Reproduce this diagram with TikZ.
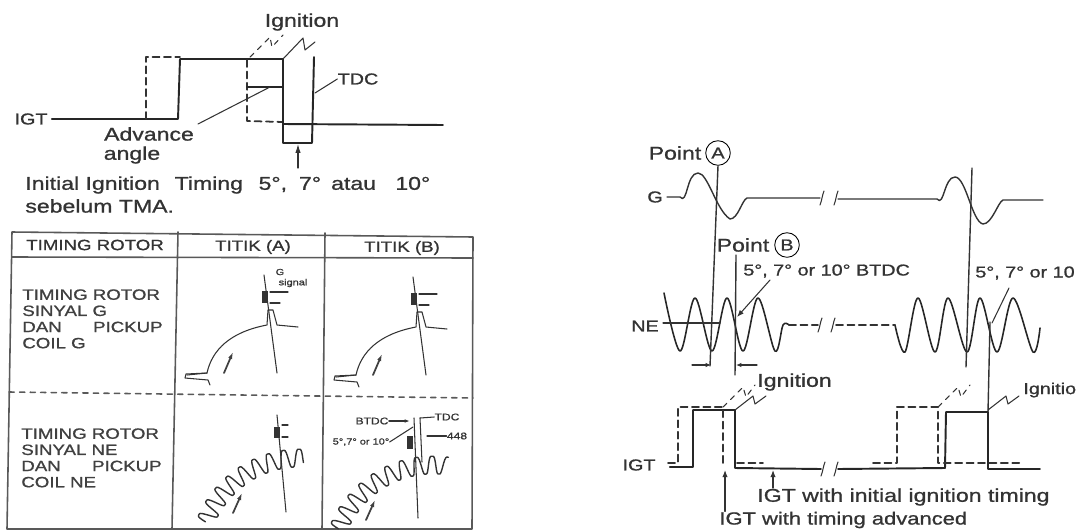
\documentclass[tikz,border=0pt]{standalone}
\usepackage{fontspec}
\setmainfont{Liberation Sans}[FakeStretch=1.25,FakeBold=1]
\usetikzlibrary{arrows.meta}

\tikzset{
  lab/.style={font=\fontsize{10.5}{12}\selectfont, text=black!80, inner sep=0pt},
  capslab/.style={font=\fontsize{9}{11}\selectfont, text=black!80, inner sep=0pt},
  smalllab/.style={font=\fontsize{5}{6}\selectfont, text=black!80, inner sep=0pt},
  tablab/.style={font=\fontsize{8.5}{9.2}\selectfont, text=black!75, inner sep=0pt, align=left, anchor=north west},
  sig/.style={line width=1.1pt, black!85},
  dsig/.style={line width=1pt, black!80, dash pattern=on 4pt off 2.5pt},
  thin line/.style={line width=0.6pt, black!80},
  tabline/.style={line width=0.9pt, black!65}
}

\begin{document}
\begin{tikzpicture}[x=0.02cm,y=-0.02cm, line cap=round, line join=round]
\clip (0,0) rectangle (1081,531);

% upper left pulse
\node[lab] (ign1) at (302,22) {Ignition};
\node[capslab] (igt1) at (31,119) {IGT};
\node[capslab] (tdc1) at (358,79) {TDC};
\node[lab] (adv) at (149,134) {Advance};
\node[lab] (ang) at (132,155) {angle};
\node[lab,anchor=west] (init) at (25,185) {Initial Ignition\hspace{0.8em}Timing\hspace{0.5em} 5°,\hspace{0.3em} 7° \hspace{0.2em}atau\hspace{0.7em} 10°};
\node[lab,anchor=west] (sebel) at (25,206) {sebelum TMA.};

\coordinate (upA) at (180,59);
\coordinate (upB) at (283,59);
\coordinate (tdcT) at (314,57);
\coordinate (tdcB) at (312,143);
\coordinate (brL) at (283,143);

\draw[sig] (igt1.east) ++(4,0) -- (178,119) -- (upA) -- (upB) -- (283,124) -- (443,125);
\draw[dsig] (146,119) -- (146,57) -- (180,57);
\draw[dsig] (247,60) -- (247,121) -- (283,122);
\draw[sig] (247,87) -- (283,87);
\draw[thin line] (198,124) -- (270,87);
\draw[sig] (tdcT) -- (tdcB) -- (brL) -- (upB);
\draw[thin line] (315,93) -- (tdc1.west);
\draw[thin line,-{Latex[length=5pt,width=3pt]}] (298,168) -- (298,144);
\draw[thin line] (upB) -- (303,38) -- (305,50) -- (315,42);
\draw[thin line,dashed] (250,57) -- (270,37) -- (272,47) -- (283,35);

% table
\draw[tabline] (12,232) -- (473,237) -- (472,529) -- (7,529) -- cycle;
\draw[tabline] (12,257) -- (473,258);
\draw[tabline] (178,232) -- (172,529);
\draw[tabline] (325,233) -- (322,529);
\draw[tabline,dashed] (9,392) -- (473,398);

\node[capslab,font=\fontsize{8.5}{10}\selectfont] (hrotor) at (95,245) {TIMING ROTOR};
\node[capslab,font=\fontsize{8.5}{10}\selectfont] (htitA) at (253,247) {TITIK (A)};
\node[capslab,font=\fontsize{8.5}{10}\selectfont] (htitB) at (402,248) {TITIK (B)};
\node[tablab] (rowG) at (22,289) {TIMING ROTOR\\SINYAL G\\DAN\hspace{2.1em}PICKUP\\COIL G};
\node[tablab] (rowNE) at (21,428) {TIMING ROTOR\\SINYAL NE\\DAN\hspace{2.1em}PICKUP\\COIL NE};

% rotor G, two cells
\foreach \dx/\dy in {0/0,149/2} {
  \begin{scope}[shift={(\dx,\dy)}]
    \draw[thin line] (187,375) -- (207,373) .. controls (212,350) and (230,332) .. (267,325)
       -- (268,310) -- (273,310) -- (277,325) -- (298,327);
    \draw[thin line] (207,373) -- (186,374) -- (185,378) -- (208,380) -- (210,385);
    \draw[thin line] (264,275) -- (277,373);
    \fill[black!80] (262,291) rectangle (268,303);
    \draw[thin line] (270,292) -- (288,292);
    \draw[thin line] (270,303) -- (280,303);
    \draw[line width=1pt,black!75,-{Latex[length=4pt,width=2.5pt]}] (224,373) -- (233,352);
  \end{scope}
}
\node[smalllab] (gG) at (280,272) {G};
\node[smalllab] (gsig) at (293,283) {signal};

% rotor NE, two cells
\foreach \dx/\dy/\lo in {0/0/70,133/7/76} {
  \begin{scope}[shift={(\dx,\dy)}]
    \draw[thin line,line width=0.8pt] plot[domain=0:\lo,samples=180,smooth]
      ({300+(102+10*(sin(44*\x)+0.12*sin(132*\x)))*cos(158-\x)},{560-(102+10*(sin(44*\x)+0.12*sin(132*\x)))*sin(158-\x)});
    \draw[line width=1pt,black!75,-{Latex[length=4pt,width=2.5pt]}] (233,513) -- (242,493);
  \end{scope}
}
\draw[thin line] (277,415) -- (286,512);
\fill[black!80] (274,427) rectangle (280,438);
\draw[thin line] (282,425) -- (288,425);
\draw[thin line] (282,437) -- (288,437);

\node[smalllab,font=\fontsize{5.5}{6}\selectfont] (btdc) at (372,421) {BTDC};
\node[smalllab,font=\fontsize{5.5}{6}\selectfont] (tdc2) at (447,417) {TDC};
\node[smalllab,font=\fontsize{5}{6}\selectfont] (deg2) at (361,442) {5°,7° or 10°};
\node[smalllab,font=\fontsize{5.5}{6}\selectfont] (val2) at (457,436) {448};
\coordinate (tdcTop) at (420,418);
\draw[thin line] (414,418) -- (418,518);
\draw[thin line] (tdcTop) -- (422,462);
\fill[black!80] (407,436) rectangle (413,449);
\draw[thin line,-{Latex[length=3pt,width=2pt]}] (btdc.east) -- (410,421);
\draw[thin line] (tdcTop) -- (tdc2.west);
\draw[thin line] (deg2.east) -- (413,427);
\draw[thin line] (427,436) -- (val2.west);

% right timing chart
\node[lab] (ptA) at (675,153) {Point};
\node[capslab,draw,circle,minimum size=14pt,line width=0.5pt] (cirA) at (718,153) {A};
\node[lab] (ptB) at (743,245) {Point};
\node[capslab,draw,circle,minimum size=14pt,line width=0.5pt] (cirB) at (787,245) {B};
\node[capslab] (gsg) at (655,197) {G};
\node[capslab] (nesg) at (645,326) {NE};
\node[capslab] (igt2) at (639,465) {IGT};
\node[capslab,anchor=west] (degL) at (743,271) {5°, 7° or 10° BTDC};
\node[capslab,anchor=west] (degR) at (975,273) {5°, 7° or 10};
\node[lab,anchor=west] (ignL) at (757,382) {Ignition};
\node[capslab,anchor=west] (ignR) at (1023,390) {Ignitio};
\node[lab,anchor=west] (noteA) at (757,497) {IGT with initial ignition timing};
\node[lab,anchor=west,font=\fontsize{10}{12}\selectfont] (noteB) at (719,520) {IGT with timing advanced};

% G signal
\draw[thin line,line width=0.8pt] (gsg.east) ++(4,0) -- (680,197) to[out=-50,in=180] (698,173)
  .. controls (708,173) and (716,210) .. (730,219) .. controls (738,219) and (742,200) .. (747,198) -- (820,198);
\draw[thin line,line width=0.8pt] (838,199) -- (937,199) to[out=-50,in=180] (955,177)
  .. controls (966,177) and (972,222) .. (983,224) .. controls (992,224) and (998,202) .. (1003,200) -- (1043,200);

% break marks
\foreach \bx/\by in {822/198,836/198,820/325,833/325,823/469,836/469}
  \draw[thin line] (\bx+2,\by-7) .. controls (\bx,\by-2) and (\bx,\by+2) .. (\bx-2,\by+7);

% NE signal
\draw[sig,line width=0.9pt] plot[smooth,tension=0.55] coordinates {(664,293) (680,351) (695,298) (712,351) (727,298) (743,351) (758,298) (775,351) (783,325) (789,325)};
\draw[sig,line width=0.9pt] plot[smooth,tension=0.55] coordinates {(895,325) (905,352) (918,298) (935,352) (948,298) (967,352) (980,298) (997,352) (1013,298) (1033,352) (1040,328)};
\draw[thin line] (663,323) -- (720,323);
\draw[dsig] (789,325) -- (818,325);
\draw[dsig] (836,325) -- (895,325);

% vertical lines
\draw[thin line,line width=0.8pt] (cirA.south) -- (710,366);
\draw[thin line,line width=0.8pt] (736,255) -- (735,375);
\draw[thin line,line width=0.8pt] (972,168) -- (966,367);
\draw[thin line,line width=0.8pt] (990,322) -- (988,412);

% angle marks
\draw[thin line,-{Latex[length=3pt,width=2.5pt]}] (692,365) -- (711,365);
\draw[thin line,-{Latex[length=3pt,width=2.5pt]}] (757,365) -- (736,365);
\draw[thin line,-{Latex[length=4pt,width=3pt]}] (770,280) -- (737,317);
\draw[thin line] (1009,288) -- (992,323);

% IGT solid
\draw[sig] (igt2.east) ++(14,2) -- (693,467) -- (693,410) -- (735,410) -- (735,468) -- (821,469);
\draw[sig] (838,469) -- (945,468) -- (946,412) -- (988,412) -- (988,469) -- (1040,469);
% IGT dashed
\draw[dsig] (668,463) -- (678,463) -- (678,407) -- (723,407) -- (723,463);
\draw[dsig] (737,463) -- (763,463);
\draw[dsig] (873,463) -- (897,463) -- (897,407) -- (938,407) -- (938,463) -- (1020,463);

% sparks
\foreach \sx/\sy in {735/410,988/410}
  \draw[thin line] (\sx,\sy) -- (\sx+18,\sy-14) -- (\sx+20,\sy-6) -- (\sx+31,\sy-14);
\foreach \sx/\sy in {723/407,938/407}
  \draw[thin line,dashed] (\sx,\sy) -- (\sx+20,\sy-20) -- (\sx+23,\sy-10) -- (\sx+32,\sy-22);

% note arrows
\draw[thin line,-{Latex[length=4pt,width=3pt]}] (noteA.north west) ++(16,0) -- (773,470);
\draw[thin line,-{Latex[length=4pt,width=3pt]}] (noteB.north west) ++(6,0) -- (725,470);

\end{tikzpicture}
\end{document}
